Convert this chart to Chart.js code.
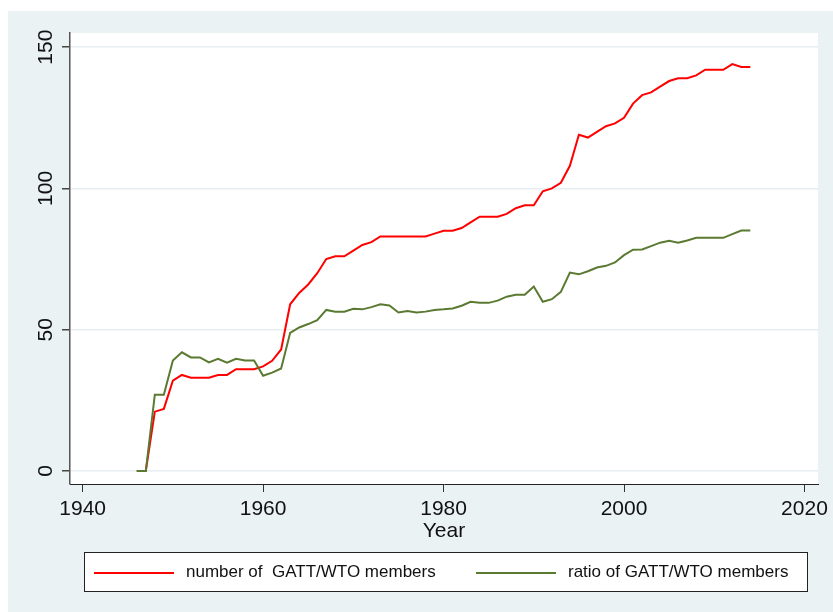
<!DOCTYPE html>
<html>
<head>
<meta charset="utf-8">
<title>GATT/WTO members</title>
<script src="https://cdn.jsdelivr.net/npm/chart.js@4/dist/chart.umd.min.js"></script>
<style>
  body { margin: 0; background: #fff; font-family: "Liberation Sans", Arial, sans-serif; }
  #wrap { position: relative; width: 833px; height: 612px; }
  #legend {
    position: absolute; left: 84px; top: 552px; width: 722px; height: 38px;
    background: #fff; border: 1px solid #222;
  }
  .item { position: absolute; top: 0; height: 38px; font-size: 17px; color: #111; white-space: pre; }
  .swatch { position: absolute; top: 19px; width: 80px; height: 2px; }
  .label { position: absolute; top: 9px; }
</style>
</head>
<body>
<div id="wrap">
  <canvas id="chart" width="833" height="612"></canvas>
  <div id="legend"></div>
</div>
<script>
/* ===========================
   DATA
=========================== */

const years = [
  1946, 1947, 1948, 1949, 1950, 1951, 1952, 1953, 1954, 1955,
  1956, 1957, 1958, 1959, 1960, 1961, 1962, 1963, 1964, 1965,
  1966, 1967, 1968, 1969, 1970, 1971, 1972, 1973, 1974, 1975,
  1976, 1977, 1978, 1979, 1980, 1981, 1982, 1983, 1984, 1985,
  1986, 1987, 1988, 1989, 1990, 1991, 1992, 1993, 1994, 1995,
  1996, 1997, 1998, 1999, 2000, 2001, 2002, 2003, 2004, 2005,
  2006, 2007, 2008, 2009, 2010, 2011, 2012, 2013, 2014
];

const memberCount = [
  0, 0, 21, 22, 32, 34, 33, 33, 33, 34,
  34, 36, 36, 36, 37, 39, 43, 59, 63, 66,
  70, 75, 76, 76, 78, 80, 81, 83, 83, 83,
  83, 83, 83, 84, 85, 85, 86, 88, 90, 90,
  90, 91, 93, 94, 94, 99, 100, 102, 108, 119,
  118, 120, 122, 123, 125, 130, 133, 134, 136, 138,
  139, 139, 140, 142, 142, 142, 144, 143, 143
];

const memberRatio = [
  0, 0, 27, 27, 39.1, 42, 40.2, 40.2, 38.4, 39.7,
  38.3, 39.7, 39.1, 39.1, 33.7, 34.8, 36.3, 48.9, 50.8, 52,
  53.4, 57, 56.4, 56.4, 57.4, 57.2, 58, 59, 58.6, 56.1,
  56.6, 56.1, 56.4, 57, 57.2, 57.5, 58.5, 59.9, 59.5, 59.5,
  60.3, 61.7, 62.4, 62.4, 65.3, 59.9, 60.8, 63.4, 70.2, 69.6,
  70.7, 72, 72.6, 73.8, 76.4, 78.3, 78.4, 79.6, 80.8, 81.5,
  80.8, 81.6, 82.5, 82.5, 82.5, 82.5, 83.8, 85.1, 85.1
];

const xTicks = [1940, 1960, 1980, 2000, 2020];
const yTicks = [0, 50, 100, 150];

const seriesLabels = ['number of  GATT/WTO members', 'ratio of GATT/WTO members'];
const seriesColors = ['#ff0000', '#5b7a31'];

/* ===========================
   BACKGROUND PLUGIN
=========================== */

const bgPlugin = {
  id: 'bg',
  beforeDraw(chart) {
    const { ctx, chartArea } = chart;
    ctx.save();
    ctx.fillStyle = '#ffffff';
    ctx.fillRect(0, 0, chart.width, chart.height);
    ctx.fillStyle = '#eaf2f3';
    ctx.fillRect(8, 11, chart.width - 8, chart.height - 11);
    ctx.fillStyle = '#ffffff';
    ctx.fillRect(chartArea.left, chartArea.top, chartArea.right - chartArea.left, chartArea.bottom - chartArea.top);
    ctx.restore();
  }
};

const font = { family: '"Liberation Sans", Arial, sans-serif', size: 21 };

/* ===========================
   CHART
=========================== */

new Chart(document.getElementById('chart'), {
  type: 'line',
  data: {
    datasets: [memberCount, memberRatio].map((vals, i) => ({
      label: seriesLabels[i],
      data: years.map((yr, j) => ({ x: yr, y: vals[j] })),
      borderColor: seriesColors[i],
      borderWidth: 2,
      pointRadius: 0,
      tension: 0,
      fill: false,
      order: i === 0 ? 1 : 0
    }))
  },
  options: {
    responsive: false,
    animation: false,
    devicePixelRatio: 1,
    layout: { padding: { left: 0, top: 33, right: 9, bottom: 58 } },
    plugins: { legend: { display: false }, tooltip: { enabled: false } },
    scales: {
      x: {
        type: 'linear',
        min: 1938.6,
        max: 2021.5,
        afterBuildTicks: s => { s.ticks = xTicks.map(v => ({ value: v })); },
        afterFit: s => { s.height = 70; },
        border: { display: true, color: '#222', width: 1 },
        grid: { drawOnChartArea: false, drawTicks: true, tickLength: 8, tickColor: '#333' },
        ticks: { font, color: '#111', padding: 5, maxRotation: 0, callback: v => String(v) },
        title: { display: true, text: 'Year', font, color: '#111', padding: { top: 0, bottom: 10 } }
      },
      y: {
        min: -4.6,
        max: 155,
        afterBuildTicks: s => { s.ticks = yTicks.map(v => ({ value: v })); },
        afterFit: s => { s.width = 70; },
        border: { display: true, color: '#555', width: 1.5 },
        grid: { color: '#e6eef1', lineWidth: 1.5, drawTicks: true, tickLength: 8, tickColor: '#444' },
        ticks: { font, color: '#111', padding: -2, minRotation: 90, maxRotation: 90, crossAlign: 'center', callback: v => String(v) }
      }
    }
  },
  plugins: [bgPlugin]
});

/* ===========================
   LEGEND
=========================== */

const legendPos = [9, 391];
const legend = document.getElementById('legend');
seriesLabels.forEach((text, i) => {
  const item = document.createElement('div');
  item.className = 'item';
  item.style.left = legendPos[i] + 'px';
  item.innerHTML = `
    <div class="swatch" style="background:${seriesColors[i]}"></div>
    <div class="label" style="left:92px"></div>
  `;
  item.querySelector('.label').textContent = text;
  legend.appendChild(item);
});
</script>
</body>
</html>
